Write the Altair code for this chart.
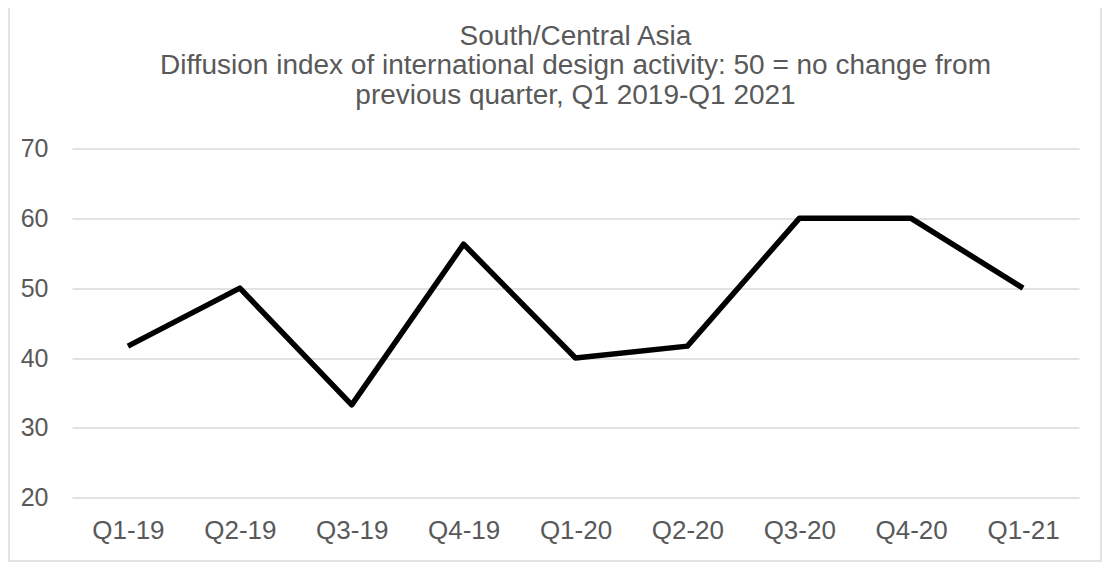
import altair as alt
import pandas as pd

quarters = ["Q1-19", "Q2-19", "Q3-19", "Q4-19", "Q1-20", "Q2-20", "Q3-20", "Q4-20", "Q1-21"]
values = [41.7, 50.0, 33.3, 56.3, 40.0, 41.7, 60.0, 60.0, 50.0]
title_lines = ["South/Central Asia",
               "Diffusion index of international design activity: 50 = no change from",
               "previous quarter, Q1 2019-Q1 2021"]
y_ticks = [20, 30, 40, 50, 60, 70]

df = pd.DataFrame({"quarter": quarters, "value": values})
title_df = pd.DataFrame({"title": ["\n".join(title_lines)]})

FONT = "Liberation Sans"
GREY = "#595959"
PLOT_W = 1007
PLOT_H = 349.2

line = alt.Chart(df).mark_line(color="black", strokeWidth=5.5, strokeJoin="round", clip=False).encode(
    x=alt.X("quarter:O", sort=quarters, title=None,
            scale=alt.Scale(type="point", padding=0.5),
            axis=alt.Axis(labelAngle=0, ticks=False, domain=False, labelFontSize=26,
                          labelColor=GREY, labelFont=FONT, labelPadding=20)),
    y=alt.Y("value:Q", title=None,
            scale=alt.Scale(domain=[20, 70], nice=False, zero=False),
            axis=alt.Axis(values=y_ticks, ticks=False, domain=False,
                          labelFontSize=25, labelColor=GREY, labelFont=FONT, labelPadding=24,
                          gridColor="#d9d9d9", gridWidth=1.3)),
)

border = alt.Chart(title_df).mark_rect(fill=None, stroke="#d9d9d9", strokeWidth=1.5, clip=False).encode(
    x=alt.value(-63), x2=alt.value(1029), y=alt.value(-152), y2=alt.value(412.5)
)

title = alt.Chart(title_df).mark_text(
    font=FONT, fontSize=28, color=GREY, align="center", baseline="alphabetic",
    lineBreak="\n", lineHeight=29.5, clip=False
).encode(
    text="title:N", x=alt.value(PLOT_W / 2), y=alt.value(-103.5)
)

chart = alt.layer(border, line, title).properties(
    width=PLOT_W,
    height=PLOT_H,
    padding={"left": 64, "top": 140.5, "right": 23, "bottom": 67},
    autosize=alt.AutoSizeParams(type="none"),
).configure(background="white").configure_view(stroke=None)

chart.save("out.html", embed_options={"renderer": "svg", "actions": False})
